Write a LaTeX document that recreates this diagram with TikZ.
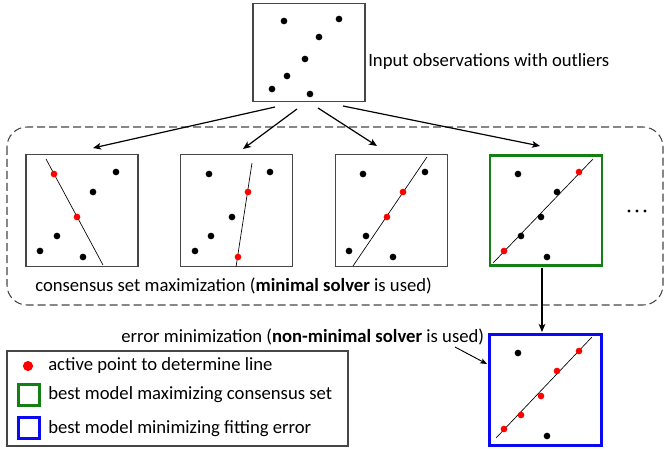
\documentclass[tikz,border=0pt]{standalone}
\usepackage{fontspec}
\setmainfont{Carlito}
\usetikzlibrary{arrows.meta}
\definecolor{bestgreen}{RGB}{20,128,20}
\definecolor{bestblue}{RGB}{10,10,240}
\definecolor{framegray}{RGB}{70,70,70}
\tikzset{
  frame/.style={draw=framegray, line width=0.8pt, inner sep=0pt, minimum width=84pt, minimum height=84pt},
  greenframe/.style={draw=bestgreen, line width=2.2pt, inner sep=0pt, minimum width=84pt, minimum height=83pt},
  blueframe/.style={draw=bestblue, line width=2.2pt, inner sep=0pt, minimum width=84pt, minimum height=83pt},
  fitline/.style={draw=black, line width=0.5pt},
  conn/.style={draw=black, line width=0.9pt, -{Stealth[length=6pt,width=5pt,inset=1.5pt]}},
  lbl/.style={anchor=west, inner sep=0pt, font=\fontsize{14}{16}\selectfont},
}
\begin{document}
\begin{tikzpicture}[x=0.75pt, y=-0.75pt]
\useasboundingbox (0,0) rectangle (664,449);

% input observations
\node[frame, minimum height=74pt] (top) at (309,52.5) {};
\foreach \p in {(284,21),(339,19),(319,37),(305,59),(287,76),(272,89),(310,94)}
  \fill \p circle[radius=2.5pt];
\node[lbl] (toplbl) at (368,62) {Input observations with outliers};

% consensus set maximization group
\draw[framegray, line width=0.8pt, dash pattern=on 6pt off 3pt, rounded corners=15pt] (7,127) rectangle (663,305);
\node[lbl] (conslbl) at (35,286) {consensus set maximization (\textbf{minimal solver} is used)};

% hypothesis 1
\node[frame] (h1) at (82,210.5) {};
\draw[fitline] (46,159) -- (103,265);
\foreach \p in {(40,251),(57,236),(83,257),(93,192),(116,172)} \fill \p circle[radius=2.5pt];
\foreach \p in {(54,174),(77,217)} \fill[red] \p circle[radius=2.5pt];

% hypothesis 2
\node[frame] (h2) at (236.5,210.5) {};
\draw[fitline] (252,163) -- (236,267);
\foreach \p in {(209,174),(270,172),(232,217),(211,236),(195,251)} \fill \p circle[radius=2.5pt];
\foreach \p in {(248,192),(238,257)} \fill[red] \p circle[radius=2.5pt];

% hypothesis 3
\node[frame] (h3) at (391.5,210.5) {};
\draw[fitline] (427,157) -- (353,266);
\foreach \p in {(363,174),(425,172),(366,236),(349,251),(393,257)} \fill \p circle[radius=2.5pt];
\foreach \p in {(403,192),(387,217)} \fill[red] \p circle[radius=2.5pt];

% best consensus hypothesis
\node[greenframe] (h4) at (546,210.5) {};
\draw[fitline] (593,159) -- (493,263);
\foreach \p in {(518,174),(557,192),(541,217),(521,236),(547,257)} \fill \p circle[radius=2.5pt];
\foreach \p in {(579,172),(504,251)} \fill[red] \p circle[radius=2.5pt];

% ellipsis
\foreach \x in {629,637,645} \fill (\x,211) circle[radius=1.3pt];

% refined model
\node[blueframe] (ref) at (545.5,390) {};
\draw[fitline] (592,337) -- (496,438);
\foreach \p in {(518,353),(547,436)} \fill \p circle[radius=2.5pt];
\foreach \p in {(579,351),(557,371),(541,396),(521,415),(504,429)} \fill[red] \p circle[radius=2.5pt];
\node[lbl] (errlbl) at (121,337) {error minimization (\textbf{non-minimal solver} is used)};

% connectors
\coordinate (s1) at (275,107); \coordinate (e1) at (93,148);
\coordinate (s2) at (297,109); \coordinate (e2) at (243,149);
\coordinate (s3) at (318,108); \coordinate (e3) at (377,146);
\coordinate (s4) at (343,106); \coordinate (e4) at (540,146);
\draw[conn] (s1) -- (e1);
\draw[conn] (s2) -- (e2);
\draw[conn] (s3) -- (e3);
\draw[conn] (s4) -- (e4);
\coordinate (v1) at (542,268); \coordinate (v2) at (542,332);
\draw[conn] (v1) -- (v2);
\coordinate (la) at (455,347); \coordinate (lb) at (487,364);
\draw[black, line width=0.7pt, -{Stealth[length=5pt,width=4pt,inset=1pt]}] (la) -- (lb);

% legend
\node[draw=framegray, line width=0.8pt, inner sep=0pt, minimum width=255.75pt, minimum height=71.25pt] (legend) at (177.5,398.5) {};
\fill[red] (28,366) circle[radius=3.8pt];
\node[lbl] (leg1) at (48,366) {active point to determine line};
\node[draw=bestgreen, line width=2pt, inner sep=0pt, minimum width=16pt, minimum height=16pt] (legg) at (29,395) {};
\node[lbl] (leg2) at (48,395) {best model maximizing consensus set};
\node[draw=bestblue, line width=2pt, inner sep=0pt, minimum width=16pt, minimum height=16pt] (legb) at (29,428) {};
\node[lbl] (leg3) at (48,429) {best model minimizing fitting error};
\end{tikzpicture}
\end{document}
